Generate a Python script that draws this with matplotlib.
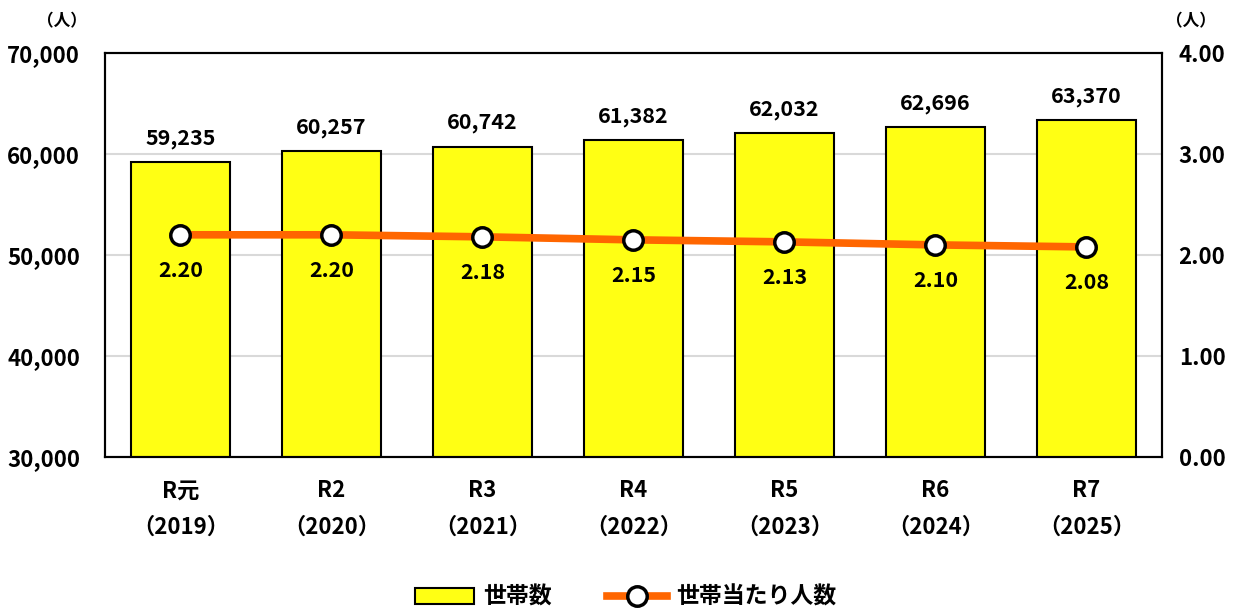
import matplotlib.pyplot as plt
from matplotlib.ticker import FuncFormatter

plt.rcParams['font.family'] = ['Noto Sans CJK JP', 'DejaVu Sans']
plt.rcParams['font.weight'] = 'bold'

categories = ['R元\n（2019）', 'R2\n（2020）', 'R3\n（2021）', 'R4\n（2022）',
              'R5\n（2023）', 'R6\n（2024）', 'R7\n（2025）']
households = [59235, 60257, 60742, 61382, 62032, 62696, 63370]
per_household = [2.20, 2.20, 2.18, 2.15, 2.13, 2.10, 2.08]

fig = plt.figure(figsize=(12.38, 6.08), dpi=100)
ax = fig.add_axes([0.0848, 0.2484, 0.8538, 0.6644])
ax2 = ax.twinx()

x = list(range(len(categories)))
bars = ax.bar(x, households, width=0.66, color='#FFFF14', edgecolor='black',
              linewidth=1.5, zorder=2, label='世帯数')
ax.set_ylim(30000, 70000)
ax.set_yticks(range(30000, 70001, 10000))
ax.yaxis.set_major_formatter(FuncFormatter(lambda v, p: f'{int(v):,}'))
ax.yaxis.grid(True, color='#D9D9D9', linewidth=1.5, zorder=0)
ax.set_axisbelow(True)
ax.set_xlim(-0.5, len(categories) - 0.5)
ax.set_xticks(x)
ax.set_xticklabels(categories, fontsize=16, fontweight='bold', linespacing=1.75)
ax.tick_params(axis='x', length=0, labelsize=16, pad=16)
ax.tick_params(axis='y', length=0, labelsize=16, pad=18)
for lbl in ax.get_yticklabels():
    lbl.set_fontweight('bold')

for xi, v in zip(x, households):
    ax.text(xi, v + 1300, f'{v:,}', ha='center', va='bottom', fontsize=15.5, fontweight='bold')

line, = ax2.plot(x, per_household, color='#FF6600', linewidth=5.5, marker='o',
                 markersize=14, markerfacecolor='white', markeredgecolor='black',
                 markeredgewidth=2.5, zorder=3, label='世帯当たり人数')
ax2.set_ylim(0, 4)
ax2.set_yticks([0, 1, 2, 3, 4])
ax2.yaxis.set_major_formatter(FuncFormatter(lambda v, p: f'{v:.2f}'))
ax2.tick_params(axis='y', length=0, labelsize=16, pad=12)
for lbl in ax2.get_yticklabels():
    lbl.set_fontweight('bold')
for xi, v in zip(x, per_household):
    ax2.text(xi, v - 0.25, f'{v:.2f}', ha='center', va='top', fontsize=15.5, fontweight='bold')

for a in (ax, ax2):
    for s in a.spines.values():
        s.set_linewidth(1.5)
        s.set_color('black')

fig.text(0.050, 0.965, '（人）', ha='center', va='center', fontsize=12)
fig.text(0.962, 0.965, '（人）', ha='center', va='center', fontsize=12)

fig.legend([bars, line], ['世帯数', '世帯当たり人数'], loc='lower center',
           bbox_to_anchor=(0.505, -0.035), ncol=2, frameon=False, fontsize=16.5,
           handlelength=2.6, handletextpad=0.4, columnspacing=2.4)

fig.savefig('out.png', dpi=100)
